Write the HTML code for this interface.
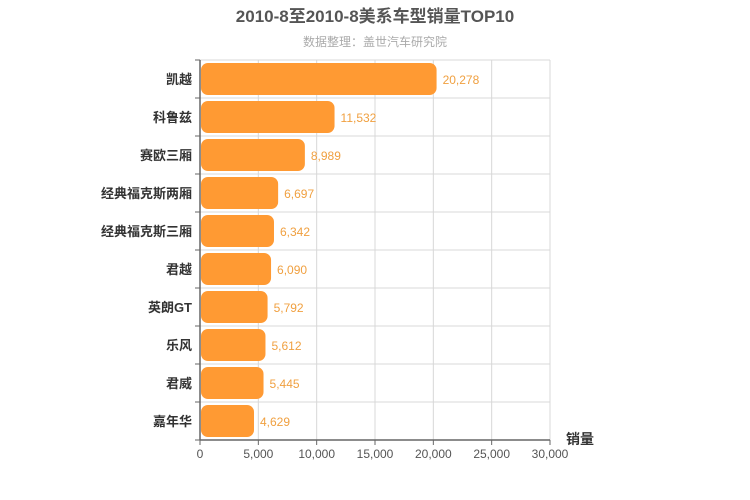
<!DOCTYPE html>
<html><head><meta charset="utf-8"><style>
body{margin:0;background:#fff;}
svg{display:block;font-family:"Liberation Sans","Noto Sans CJK SC",sans-serif;}
</style></head><body>
<svg id="c" width="750" height="500">
<text x="375" y="22" text-anchor="middle" font-size="17" font-weight="bold" fill="#555">2010-8至2010-8美系车型销量TOP10</text>
<text x="375" y="46" text-anchor="middle" font-size="12" fill="#aaa">数据整理：盖世汽车研究院</text>
<text x="580" y="444" text-anchor="middle" font-size="14" font-weight="bold" fill="#333">销量</text>
</svg>
<script>
const categories=["凯越","科鲁兹","赛欧三厢","经典福克斯两厢","经典福克斯三厢","君越","英朗GT","乐风","君威","嘉年华"];
const values=[20278,11532,8989,6697,6342,6090,5792,5612,5445,4629];
const ticks=[0,5000,10000,15000,20000,25000,30000];
const svg=document.getElementById('c');
const NS='http://www.w3.org/2000/svg';
const X0=200,X1=550,Y0=60,Y1=440,MAX=30000;
const x=v=>X0+(v/MAX)*(X1-X0);
const band=(Y1-Y0)/categories.length;
const y=i=>Y0+i*band;
function mk(t,a){const e=document.createElementNS(NS,t);for(const k in a)e.setAttribute(k,a[k]);svg.appendChild(e);return e;}
const fmt=v=>v.toLocaleString('en-US');
for(let i=0;i<=categories.length;i++){
 const g=mk('line',{x1:X0,x2:X1,y1:y(i),y2:y(i),stroke:'#d8d8d8'});
 
 
 const t=mk('line',{x1:X0-5,x2:X0,y1:y(i),y2:y(i),stroke:'#666'});
 
 
}
ticks.forEach(v=>{
 const g=mk('line',{x1:x(v),x2:x(v),y1:Y0,y2:Y1,stroke:'#d8d8d8'});
 
 
 const t=mk('line',{x1:x(v),x2:x(v),y1:Y1,y2:Y1+5,stroke:'#666'});
 
 
 const l=mk('text',{x:x(v),y:Y1+18,'text-anchor':'middle','font-size':12,fill:'#555'});
 l.textContent=fmt(v);
 
 
});
const ax=mk('line',{x1:X0,x2:X0,y1:Y0,y2:Y1,stroke:'#666','stroke-width':1.5});


const bx=mk('line',{x1:X0,x2:X1,y1:Y1,y2:Y1,stroke:'#666','stroke-width':1.5});


categories.forEach((c,i)=>{
 const cy=y(i)+band/2;
 const b=mk('rect',{x:X0+1,y:cy-16,width:Math.max(0,x(values[i])-X0-1),height:32,rx:7,fill:'#ff9a33'});
 
 
 const v=mk('text',{x:x(values[i])+6,y:cy+5,'font-size':12,fill:'#f0a040'});
 v.textContent=fmt(values[i]);
 
 
 const l=mk('text',{x:X0-8,y:cy+5,'text-anchor':'end','font-size':13,'font-weight':'bold',fill:'#333'});
 l.textContent=c;
 
 
});
</script>
</body></html>
